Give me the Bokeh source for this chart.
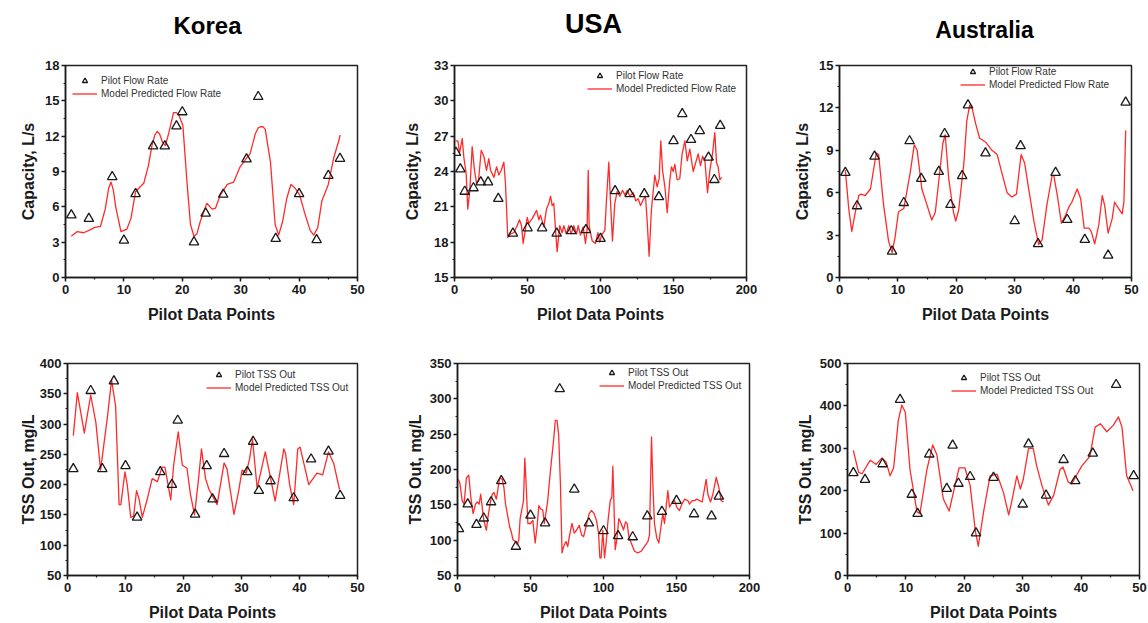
from bokeh.plotting import figure
from bokeh.layouts import column, row
from bokeh.models import (Range1d, SingleIntervalTicker, Legend, LegendItem)
from bokeh.core.properties import value
from bokeh.embed import file_html
from bokeh.resources import INLINE

# ---------------- column headings ----------------
regions = ["Korea", "USA", "Australia"]

# ---------------- Korea: flow rate ----------------
korea_flow_pilot_x = [1, 4, 8, 10, 12, 15, 17, 19, 20, 22, 24, 27, 31, 33, 36, 40, 43, 45, 47]
korea_flow_pilot_y = [5.3, 5.0, 8.55, 3.15, 7.1, 11.15, 11.15, 12.85, 14.05, 3.0, 5.45, 7.05, 10.05, 15.35, 3.3, 7.1, 3.2, 8.65, 10.1]
korea_flow_model_x = [1, 2, 3.1, 4.2, 5, 6, 6.8, 7.4, 7.8, 8.2, 8.6, 9.5, 10.5, 11.2, 12, 13.4, 14.2, 14.8, 15.3, 15.7, 16.1,
                      16.6, 17.1, 17.7, 18.5, 19.0, 19.4, 20.1, 20.8, 21.4, 22, 22.5, 23.1, 24.2, 25.1, 25.7, 26.5, 27.7,
                      28.8, 29.9, 31.1, 31.6, 32.5, 33.0, 33.4, 33.8, 34.2, 35.1, 35.9, 36.5, 37.2, 37.9, 38.6, 39.3,
                      40.1, 41, 41.9, 42.5, 43.2, 43.9, 45, 45.9, 46.9, 47]
korea_flow_model_y = [3.5, 3.9, 3.8, 4.05, 4.25, 4.35, 5.8, 7.6, 8.1, 7.4, 6.0, 3.9, 4.1, 5.0, 7.3, 8.0, 9.5, 11.2, 12.1,
                      12.4, 12.2, 11.5, 11.2, 12.3, 14.0, 14.0, 13.8, 12.9, 8.1, 4.5, 3.5, 3.7, 4.8, 6.3, 5.8, 5.9, 7.0,
                      7.9, 8.1, 9.4, 10.2, 10.5, 12.2, 12.7, 12.8, 12.8, 12.6, 9.8, 4.5, 3.6, 4.8, 6.75, 7.9, 7.6,
                      7.0, 5.4, 4.0, 3.6, 4.25, 6.5, 7.9, 10.1, 11.8, 12.1]

# ---------------- USA: flow rate ----------------
usa_flow_pilot_x = [1, 4, 7, 13, 18, 23, 30, 40, 50, 60, 70, 80, 90, 100, 110, 120, 130, 140, 150, 156, 162, 168, 174, 178, 182]
usa_flow_pilot_y = [25.6, 24.2, 22.3, 22.6, 23.1, 23.1, 21.7, 18.75, 19.2, 19.2, 18.75, 18.95, 19.05, 18.3, 22.35, 22.1,
                    22.1, 21.85, 26.6, 28.9, 26.7, 27.45, 25.2, 23.3, 27.9]
usa_flow_model_x = [0.7, 2.3, 3.5, 5.3, 6.4, 8.0, 9.1, 10.5, 12.1, 13.7, 15.1, 16.5, 18.3, 20.1, 21.9, 23.5, 24.7, 27, 28.8,
                    30.4, 32, 33.8, 34.9, 36.5, 38.4, 40.6, 42.9, 44.5, 45.9, 47, 48.6, 49.8, 50.9, 53.2, 56.2, 57.8,
                    58.9, 61.2, 63, 64.6, 65.8, 66.9, 68, 69.2, 70.3, 72.1, 73.7, 74.9, 76.5, 78.3, 79.9, 81.7, 83.6,
                    84.7, 86.3, 88.1, 89.7, 90.8, 91.6, 92.2, 94.3, 96.6, 98.2, 99.5, 100.7, 103, 104.1, 105.7, 106.8,
                    108.2, 109.8, 111.4, 113.2, 115.1, 116.7, 118.3, 120.1, 122.4, 124.2, 125.8, 127.4, 129.2, 130.8,
                    131.9, 133.3, 134.9, 137.2, 138.8, 140.2, 141.3, 142.5, 144.1, 145.7, 147.5, 148.6, 149.8, 150.9,
                    152.5, 154.3, 155.9, 157.8, 159.4, 161.2, 163.5, 165.1, 166.9, 168.5, 169.9, 171.5, 173.3, 174.9,
                    176.7, 178.3, 179.5, 180.6, 181.7, 182.9]
usa_flow_model_y = [26.6, 26.6, 25.6, 26.8, 25.2, 23.8, 20.8, 22.4, 26.1, 24.1, 23.0, 23.3, 25.8, 25.3, 24.1, 25.1, 24.1,
                    23.5, 24.4, 23.7, 24.1, 24.8, 23.0, 18.4, 18.7, 18.8, 19.4, 19.9, 19.4, 17.9, 19.1, 20.1, 19.6,
                    20.0, 20.7, 19.9, 20.3, 19.3, 20.8, 21.3, 21.9, 21.1, 21.3, 19.1, 17.2, 19.4, 18.8, 19.4, 18.7,
                    19.4, 18.7, 19.4, 18.7, 19.4, 18.6, 19.3, 17.9, 19.0, 24.1, 19.4, 18.1, 17.9, 18.8, 18.0, 18.6,
                    19.0, 21.6, 24.8, 21.6, 18.1, 21.3, 22.3, 21.9, 22.4, 22.0, 22.4, 21.9, 22.2, 21.5, 21.7, 21.1,
                    21.6, 21.9, 19.95, 16.8, 20.8, 23.7, 22.7, 23.4, 26.6, 24.1, 22.7, 20.5, 23.3, 24.4, 24.0, 24.6,
                    23.3, 23.4, 25.5, 26.6, 24.9, 25.9, 24.0, 24.7, 25.5, 24.5, 25.3, 24.9, 22.2, 24.1, 25.5, 27.3,
                    24.7, 24.4, 23.3, 23.5]

# ---------------- Australia: flow rate ----------------
aus_flow_pilot_x = [1, 3, 6, 9, 11, 12, 14, 17, 18, 19, 21, 22, 25, 30, 31, 34, 37, 39, 42, 46, 49]
aus_flow_pilot_y = [7.42, 5.06, 8.57, 1.85, 5.29, 9.66, 7.0, 7.49, 10.17, 5.15, 7.19, 12.2, 8.8, 4.0, 9.31, 2.38, 7.42,
                    4.09, 2.68, 1.57, 12.39]
aus_flow_model_x = [1, 1.6, 2.1, 2.7, 3.3, 3.7, 4.4, 5.3, 5.9, 6.3, 6.7, 7.5, 8.4, 9, 9.5, 10.1, 11, 11.5, 12.1, 12.8, 13.3,
                    14.1, 15, 15.8, 16.4, 17.1, 17.7, 18.1, 18.7, 19.5, 19.9, 20.4, 21.3, 21.8, 22.3, 22.7, 23.3, 24,
                    25.1, 26.1, 27, 27.8, 28.7, 29.5, 30.3, 31.1, 31.7, 32.4, 33.3, 34.1, 34.7, 35.5, 36.4, 36.7,
                    37.3, 38, 38.7, 39.3, 39.8, 40.7, 41.3, 41.9, 42.7, 43.1, 43.7, 44.4, 45, 45.4, 46, 46.7, 47.1,
                    47.8, 48.4, 48.7, 49]
aus_flow_model_y = [7.6, 4.8, 3.26, 4.6, 5.8, 5.9, 5.8, 6.26, 7.8, 8.8, 8.7, 5.3, 2.57, 1.76, 2.8, 4.65, 4.88, 6.0, 7.4,
                    9.38, 9.0, 6.26, 5.1, 4.07, 4.6, 7.2, 9.5, 10.1, 7.0, 4.65, 4.0, 4.76, 8.1, 11.1, 12.2, 12.0, 10.9,
                    9.85, 9.55, 9.0, 8.7, 7.4, 6.0, 5.7, 5.9, 8.7, 8.1, 6.26, 3.95, 2.33, 2.68, 5.1, 7.2, 7.23, 5.8,
                    3.84, 4.41, 5.0, 5.34, 6.26, 5.57, 3.49, 3.49, 3.26, 2.38, 3.72, 5.8, 5.1, 3.14, 4.18, 5.34, 4.88,
                    4.5, 5.34, 10.4]

# ---------------- Korea: TSS out ----------------
korea_tss_pilot_x = [1, 4, 6, 8, 10, 12, 16, 18, 19, 22, 24, 25, 27, 31, 32, 33, 35, 39, 42, 45, 47]
korea_tss_pilot_y = [226, 355, 226, 371, 231, 146, 221, 200, 306, 151, 231, 176, 251, 221, 271, 190, 206, 178, 242, 255, 182]
korea_tss_model_x = [1, 1.7, 2.9, 4, 4.9, 5.7, 6.9, 7.6, 8.3, 8.9, 9.2, 9.9, 10.3, 10.9, 11.4, 11.9, 12.3, 12.9, 13.8, 14.6,
                     15.5, 16.3, 16.8, 17.8, 18.3, 19.1, 19.8, 20.6, 21.2, 21.9, 22.6, 23.1, 23.8, 24.4, 25.8, 27, 27.5,
                     28.7, 29.5, 30.1, 30.8, 31.4, 31.9, 32.7, 34.1, 35.8, 37.3, 37.6, 38.3, 39, 39.7, 40.1, 41.6, 43,
                     44, 45, 45.9, 46.9]
korea_tss_model_y = [281, 352, 285, 348, 302, 224, 313, 373, 329, 167, 167, 221, 200, 146, 148, 190, 178, 146, 178, 210,
                     205, 229, 229, 175, 232, 287, 232, 227, 184, 150, 210, 259, 210, 192, 167, 236, 226,
                     151, 189, 224, 219, 243, 275, 194, 254, 173, 259, 251, 200, 167, 259, 262, 200, 219,
                     216, 254, 235, 192]

# ---------------- USA: TSS out ----------------
usa_tss_pilot_x = [1, 7, 13, 18, 23, 30, 40, 50, 60, 70, 80, 90, 100, 110, 120, 130, 140, 150, 162, 174, 179]
usa_tss_pilot_y = [116, 151, 122, 131, 154, 184, 91, 135, 124, 314, 172, 124, 113, 106, 104.5, 134, 140.5, 156, 137, 134, 162]
usa_tss_model_x = [0.5, 1.6, 3.2, 4.5, 6.1, 7.7, 9.1, 10.7, 12.3, 13.6, 14.8, 15.9, 18, 19.8, 20.9, 22.7, 23.9, 25, 26.6,
                   28.9, 30.7, 31.8, 32.9, 34.1, 35.7, 36.8, 38, 39.5, 40.9, 42, 42.9, 45.2, 46.1, 47, 48.2, 50, 51.6,
                   53.2, 54.5, 55.7, 56.8, 58.4, 59.5, 61.8, 63, 64.1, 65.7, 67, 68.2, 69.3, 70.5, 71.6, 72.7, 74.3,
                   75.5, 76.6, 78.4, 80, 81.6, 83.4, 85, 86.4, 88, 90.2, 91.8, 93.6, 95.2, 96.6, 97.5, 98.4, 99.5,
                   100.7, 101.8, 102.9, 104.6, 105.7, 106.4, 107.1, 108, 109.1, 110.5, 112.1, 113.7, 115.1, 116.2,
                   117.4, 119, 121.2, 123.5, 125.8, 128, 130.4, 131.5, 132.2, 132.9, 133.8, 134.9, 136.5, 137.9,
                   140.6, 141.8, 142.9, 144.1, 145.2, 146.4, 148.6, 150.2, 152, 153.7, 155.5, 157.8, 158.9, 160.7,
                   162.3, 163.9, 165.8, 167.6, 170.3, 171.5, 173.3, 174.9, 177.2, 179, 180.6, 182.2]
usa_tss_model_y = [186, 181, 156, 151, 188, 192, 161, 137.5, 151, 154, 151, 165, 128, 114, 133, 156, 165, 167.6, 158,
                   188, 186, 174.5, 151, 137.5, 119, 112, 100.5, 98, 93.5, 100.5, 130.6, 156, 216, 179, 123.6, 123.6,
                   128, 96, 119, 149, 144.6, 142.6, 123.6, 156, 184, 207, 239, 269.4, 269.4, 248.6, 179, 82, 91, 98,
                   91, 105, 123.6, 110, 114.4, 121, 107.4, 105, 119, 137.5, 142, 137.5, 128, 110, 75, 75, 114,
                   75, 96, 123.6, 156, 160.6, 204.6, 156, 86.6, 100.5, 130.6, 123.6, 114.4, 126, 123.6,
                   105, 96, 84.3, 82, 84.3, 91, 98, 107.4, 179, 246, 179, 123.6, 102.8, 96,
                   137.5, 123.6, 146.8, 170, 146.8, 151, 156, 146.8, 142, 151, 158, 156, 151, 156,
                   156, 158, 156, 154, 186, 165, 154, 165, 189, 174.5, 156, 154]

# ---------------- Australia: TSS out ----------------
aus_tss_pilot_x = [1, 3, 6, 9, 11, 12, 14, 17, 18, 19, 21, 22, 25, 30, 31, 34, 37, 39, 42, 46, 49]
aus_tss_pilot_y = [242, 226, 263, 415, 191, 146, 286, 205, 307, 217, 233, 100, 231, 168, 310, 189, 273, 223, 288, 450, 235]
aus_tss_model_x = [1, 1.9, 2.5, 3.9, 4.9, 5.9, 6.6, 7.3, 7.9, 8.7, 9.3, 9.9, 10.7, 11.9, 12.4, 13.6, 14.6, 15.3, 16.4, 17.4,
                   18.4, 19.1, 20.1, 21, 21.9, 22.4, 23.3, 24.4, 25.6, 26.7, 27.6, 28.1, 29, 29.6, 30.1, 31, 31.8,
                   32.4, 33.3, 34.4, 35.3, 36.4, 36.9, 37.8, 38.4, 39, 40.1, 41.5, 42.4, 43.3, 44.4, 45.5, 46.4, 47,
                   47.8, 48.9]
aus_tss_model_y = [295, 243, 240, 272, 262, 277, 268, 235, 254, 366, 402, 385, 250, 150, 146, 250, 308, 285, 181, 152,
                   212, 254, 254, 212, 104, 69, 150, 235, 239, 196, 143, 173, 235, 204, 227, 300, 300,
                   258, 212, 166, 189, 250, 256, 220, 216, 231, 258, 281, 350, 358, 339, 354, 374, 350,
                   235, 200]

FONT = "Liberation Sans"
RED = "#ff2a2a"
INK = "#1a1a1a"
COL_WIDTHS = [380, 390, 378]
HEAD_H = 50


def heading(text, width, cx, cy, size):
    """A bare strip carrying one bold column heading."""
    h = figure(width=width, height=HEAD_H, output_backend="svg", toolbar_location=None,
               x_range=Range1d(0, width), y_range=Range1d(0, HEAD_H),
               min_border=0, x_axis_type=None, y_axis_type=None)
    h.outline_line_color = None
    h.xgrid.visible = False
    h.ygrid.visible = False
    h.text(x=[cx], y=[HEAD_H - cy], text=[text], text_font=value(FONT),
           text_font_size=size, text_font_style="bold", text_color="black",
           text_align="center", text_baseline="middle")
    return h


def panel(xs_p, ys_p, xs_m, ys_m, xr, yr, xstep, ystep, ylabel, labels, loc,
          width, height, borders, ylabel_standoff=10):
    left, right, top, bottom = borders
    p = figure(width=width, height=height, output_backend="svg", toolbar_location=None,
               x_range=Range1d(*xr), y_range=Range1d(*yr),
               min_border_left=left, min_border_right=right,
               min_border_top=top, min_border_bottom=bottom)
    p.background_fill_color = "white"
    p.border_fill_color = "white"
    p.xgrid.visible = False
    p.ygrid.visible = False
    p.outline_line_color = "#222222"
    p.outline_line_width = 1.5

    p.xaxis.ticker = SingleIntervalTicker(interval=xstep, num_minor_ticks=2)
    p.yaxis.ticker = SingleIntervalTicker(interval=ystep, num_minor_ticks=2)
    p.xaxis.axis_label = "Pilot Data Points"
    p.yaxis.axis_label = ylabel
    for ax in (p.xaxis, p.yaxis):
        ax.axis_line_width = 1.5
        ax.axis_line_color = INK
        ax.major_tick_line_color = INK
        ax.minor_tick_line_color = INK
        ax.major_tick_line_width = 1.5
        ax.minor_tick_line_width = 1.2
        ax.major_tick_in = 0
        ax.major_tick_out = 4
        ax.minor_tick_in = 0
        ax.minor_tick_out = 2
        ax.major_label_text_font = FONT
        ax.major_label_text_font_size = "13px"
        ax.major_label_text_font_style = "bold"
        ax.major_label_text_color = INK
        ax.axis_label_text_font = FONT
        ax.axis_label_text_font_size = "16px"
        ax.axis_label_text_font_style = "bold"
        ax.axis_label_text_color = INK
    p.xaxis.major_label_standoff = 3
    p.yaxis.major_label_standoff = 2
    p.xaxis.axis_label_standoff = 9
    p.yaxis.axis_label_standoff = ylabel_standoff

    line_r = p.line(xs_m, ys_m, line_color=RED, line_width=1.3, line_join="round")
    pts_r = p.scatter(xs_p, ys_p, marker="triangle", size=9.5, fill_color=None,
                      line_color=INK, line_width=1.3)

    legend = Legend(items=[LegendItem(label=labels[0], renderers=[pts_r]),
                           LegendItem(label=labels[1], renderers=[line_r])],
                    location=loc, orientation="vertical",
                    border_line_alpha=0, background_fill_alpha=0,
                    padding=0, margin=0, spacing=0,
                    glyph_width=25, glyph_height=13, label_height=13,
                    label_standoff=4, label_text_font=FONT,
                    label_text_font_size="10px", label_text_color="#333333")
    p.add_layout(legend)
    return p


flow_labels = ["Pilot Flow Rate", "Model Predicted Flow Rate"]
tss_labels = ["Pilot TSS Out", "Model Predicted TSS Out"]

h1 = heading(regions[0], COL_WIDTHS[0], 207, 25, "24px")
h2 = heading(regions[1], COL_WIDTHS[1], 213, 23, "27px")
h3 = heading(regions[2], COL_WIDTHS[2], 214, 29, "23px")

top_h = 335 - HEAD_H
p1 = panel(korea_flow_pilot_x, korea_flow_pilot_y, korea_flow_model_x, korea_flow_model_y,
           (0, 50), (0, 18), 10, 3, "Capacity, L/s", flow_labels, (7, 177),
           COL_WIDTHS[0], top_h, (65, 23, 65 - HEAD_H, 54), ylabel_standoff=5)
p2 = panel(usa_flow_pilot_x, usa_flow_pilot_y, usa_flow_model_x, usa_flow_model_y,
           (0, 200), (15, 33), 50, 3, "Capacity, L/s", flow_labels, (133, 182),
           COL_WIDTHS[1], top_h, (74, 24, 62 - HEAD_H, 56), ylabel_standoff=10)
p3 = panel(aus_flow_pilot_x, aus_flow_pilot_y, aus_flow_model_x, aus_flow_model_y,
           (0, 50), (0, 15), 10, 3, "Capacity, L/s", flow_labels, (121, 186),
           COL_WIDTHS[2], top_h, (69, 17, 61 - HEAD_H, 58), ylabel_standoff=5)
p4 = panel(korea_tss_pilot_x, korea_tss_pilot_y, korea_tss_model_x, korea_tss_model_y,
           (0, 50), (50, 400), 10, 50, "TSS Out, mg/L", tss_labels, (139, 181),
           COL_WIDTHS[0], 288, (67, 23, 28, 44), ylabel_standoff=0)
p5 = panel(usa_tss_pilot_x, usa_tss_pilot_y, usa_tss_model_x, usa_tss_model_y,
           (0, 200), (50, 350), 50, 50, "TSS Out, mg/L", tss_labels, (142, 183),
           COL_WIDTHS[1], 288, (77, 21, 28, 44), ylabel_standoff=3)
p6 = panel(aus_tss_pilot_x, aus_tss_pilot_y, aus_tss_model_x, aus_tss_model_y,
           (0, 50), (0, 500), 10, 100, "TSS Out, mg/L", tss_labels, (104, 178),
           COL_WIDTHS[2], 288, (77, 9, 27, 45), ylabel_standoff=3)

layout = column(row(h1, h2, h3, spacing=0),
                row(p1, p2, p3, spacing=0),
                row(p4, p5, p6, spacing=0), spacing=0)

with open("out.html", "w") as f:
    f.write(file_html(layout, INLINE))
